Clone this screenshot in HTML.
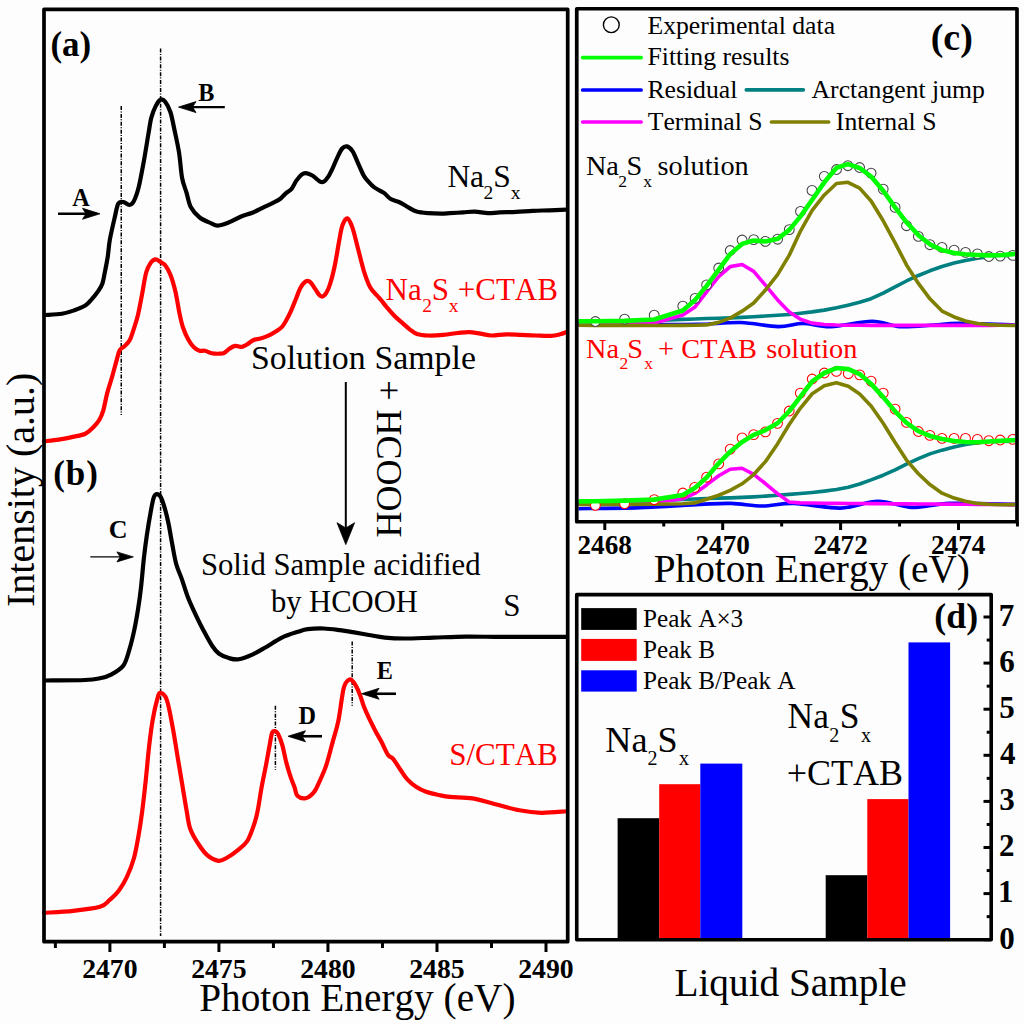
<!DOCTYPE html>
<html><head><meta charset="utf-8"><style>
html,body{margin:0;padding:0;background:#fdfdfd;}
svg{display:block;}
text{font-family:"Liberation Serif",serif;font-kerning:none;}
</style></head><body>
<svg width="1024" height="1024" viewBox="0 0 1024 1024">
<line x1="121.25" y1="106" x2="121.25" y2="415" stroke="#000" stroke-width="1.5" stroke-dasharray="4 1.4 1 1.5"/>
<line x1="160.6" y1="48.5" x2="160.6" y2="936" stroke="#000" stroke-width="1.5" stroke-dasharray="4 1.4 1 1.5"/>
<line x1="275.4" y1="705.8" x2="275.4" y2="769.8" stroke="#000" stroke-width="1.5" stroke-dasharray="4 1.4 1 1.5"/>
<line x1="352.2" y1="641.6" x2="352.2" y2="705.8" stroke="#000" stroke-width="1.5" stroke-dasharray="4 1.4 1 1.5"/>
<path d="M45.00,315.00 C47.82,314.79 57.00,314.53 61.90,313.75 C66.80,312.97 70.50,311.66 74.40,310.30 C78.30,308.94 82.43,307.42 85.30,305.60 C88.17,303.78 89.52,301.73 91.60,299.40 C93.68,297.07 96.02,294.20 97.80,291.60 C99.58,289.00 101.10,287.17 102.30,283.80 C103.50,280.43 104.08,275.97 105.00,271.40 C105.92,266.83 107.00,261.63 107.80,256.40 C108.60,251.17 108.65,246.48 109.80,240.00 C110.95,233.52 113.28,223.57 114.70,217.50 C116.12,211.43 116.83,206.17 118.30,203.60 C119.77,201.03 121.67,201.87 123.50,202.10 C125.33,202.33 127.60,205.12 129.30,205.00 C131.00,204.88 132.12,204.45 133.70,201.40 C135.28,198.35 137.08,193.55 138.80,186.70 C140.52,179.85 142.40,169.08 144.00,160.30 C145.60,151.52 147.18,141.08 148.40,134.00 C149.62,126.92 150.08,122.45 151.30,117.80 C152.52,113.15 154.12,109.15 155.70,106.10 C157.28,103.05 159.22,100.23 160.80,99.50 C162.38,98.77 163.60,99.62 165.20,101.70 C166.80,103.78 168.82,107.12 170.40,112.00 C171.98,116.88 173.25,124.17 174.70,131.00 C176.15,137.83 177.87,145.17 179.10,153.00 C180.33,160.83 180.87,171.40 182.10,178.00 C183.33,184.60 185.03,187.72 186.50,192.60 C187.97,197.48 188.70,203.15 190.90,207.30 C193.10,211.45 196.28,214.82 199.70,217.50 C203.12,220.18 208.47,222.05 211.40,223.40 C214.33,224.75 215.10,225.48 217.30,225.60 C219.50,225.72 222.28,224.80 224.60,224.10 C226.92,223.40 228.58,222.63 231.25,221.40 C233.92,220.17 236.97,218.18 240.60,216.70 C244.22,215.22 249.35,213.98 253.00,212.50 C256.65,211.02 259.10,209.43 262.50,207.80 C265.90,206.17 270.48,204.17 273.40,202.70 C276.32,201.23 277.98,200.52 280.00,199.00 C282.02,197.48 283.57,195.30 285.50,193.60 C287.43,191.90 289.78,190.97 291.60,188.80 C293.42,186.63 294.68,183.00 296.40,180.60 C298.12,178.20 300.30,175.65 301.90,174.40 C303.50,173.15 304.18,172.87 306.00,173.10 C307.82,173.33 310.53,174.43 312.80,175.80 C315.07,177.17 317.77,180.32 319.60,181.30 C321.43,182.28 322.42,182.38 323.80,181.70 C325.18,181.02 326.43,179.43 327.90,177.20 C329.37,174.97 331.02,171.62 332.60,168.30 C334.18,164.98 335.80,160.60 337.40,157.30 C339.00,154.00 340.60,150.32 342.20,148.50 C343.80,146.68 345.28,145.95 347.00,146.40 C348.72,146.85 350.68,148.47 352.50,151.20 C354.32,153.93 356.08,158.82 357.90,162.80 C359.72,166.78 361.80,172.13 363.40,175.10 C365.00,178.07 365.68,178.55 367.50,180.60 C369.32,182.65 371.57,185.35 374.30,187.40 C377.03,189.45 381.17,190.97 383.90,192.90 C386.63,194.83 388.02,197.40 390.70,199.00 C393.38,200.60 397.07,201.10 400.00,202.50 C402.93,203.90 405.53,205.88 408.30,207.40 C411.07,208.92 413.28,210.63 416.60,211.60 C419.92,212.57 424.05,212.87 428.20,213.20 C432.35,213.53 437.90,213.60 441.50,213.60 C445.10,213.60 446.20,213.40 449.80,213.20 C453.40,213.00 458.95,212.67 463.10,212.40 C467.25,212.13 470.55,211.47 474.70,211.60 C478.85,211.73 483.85,213.07 488.00,213.20 C492.15,213.33 494.90,212.62 499.60,212.40 C504.30,212.18 510.67,212.17 516.20,211.90 C521.73,211.63 527.27,211.07 532.80,210.80 C538.33,210.53 543.87,210.50 549.40,210.30 C554.93,210.10 563.23,209.72 566.00,209.60" fill="none" stroke="#000" stroke-width="4.2" stroke-linejoin="round" stroke-linecap="round" />
<path d="M44.00,441.25 C46.46,440.99 53.95,440.43 58.75,439.70 C63.55,438.97 68.38,437.89 72.80,436.90 C77.22,435.91 81.92,435.32 85.30,433.75 C88.68,432.18 90.75,429.84 93.10,427.50 C95.45,425.16 97.70,422.57 99.40,419.70 C101.10,416.83 102.00,414.73 103.30,410.30 C104.60,405.87 105.77,398.57 107.20,393.10 C108.63,387.63 110.33,382.97 111.90,377.50 C113.47,372.03 115.30,364.85 116.60,360.30 C117.90,355.75 118.40,352.54 119.70,350.20 C121.00,347.86 122.72,347.95 124.40,346.25 C126.08,344.55 128.23,342.89 129.80,340.00 C131.37,337.11 132.45,333.03 133.80,328.90 C135.15,324.77 136.53,320.90 137.90,315.20 C139.27,309.50 140.63,301.77 142.00,294.70 C143.37,287.63 144.63,278.15 146.10,272.80 C147.57,267.45 149.22,264.83 150.80,262.60 C152.38,260.37 154.00,259.52 155.60,259.40 C157.20,259.28 158.80,260.92 160.40,261.90 C162.00,262.88 163.48,263.03 165.20,265.30 C166.92,267.57 168.98,271.05 170.70,275.50 C172.42,279.95 174.02,285.62 175.50,292.00 C176.98,298.38 178.35,307.88 179.60,313.80 C180.85,319.72 181.53,323.17 183.00,327.50 C184.47,331.83 186.58,336.50 188.40,339.80 C190.22,343.10 192.07,345.48 193.90,347.30 C195.73,349.12 197.57,350.12 199.40,350.70 C201.23,351.28 202.85,350.38 204.90,350.80 C206.95,351.22 209.27,352.72 211.70,353.20 C214.13,353.68 217.38,353.77 219.50,353.70 C221.62,353.63 222.77,353.62 224.40,352.80 C226.03,351.98 227.50,349.95 229.30,348.80 C231.10,347.65 233.08,346.22 235.20,345.90 C237.32,345.58 240.05,347.13 242.00,346.90 C243.95,346.67 244.95,345.65 246.90,344.50 C248.85,343.35 251.43,340.98 253.70,340.00 C255.97,339.02 258.05,339.32 260.50,338.60 C262.95,337.88 265.78,336.92 268.40,335.70 C271.02,334.48 273.93,332.77 276.20,331.30 C278.47,329.83 280.38,328.62 282.00,326.90 C283.62,325.18 284.43,323.60 285.90,321.00 C287.37,318.40 289.17,314.88 290.80,311.30 C292.43,307.72 294.08,303.43 295.70,299.50 C297.32,295.57 298.75,290.75 300.50,287.70 C302.25,284.65 304.52,282.10 306.20,281.20 C307.88,280.30 309.12,281.02 310.60,282.30 C312.08,283.58 313.52,286.65 315.10,288.90 C316.68,291.15 318.52,294.75 320.10,295.80 C321.68,296.85 323.00,296.98 324.60,295.20 C326.20,293.42 328.02,289.97 329.70,285.10 C331.38,280.23 333.12,273.42 334.70,266.00 C336.28,258.58 337.92,247.37 339.20,240.60 C340.48,233.83 341.03,229.10 342.40,225.40 C343.77,221.70 345.72,217.98 347.40,218.40 C349.08,218.82 350.80,223.13 352.50,227.90 C354.20,232.67 355.70,239.80 357.60,247.00 C359.50,254.20 361.78,264.33 363.90,271.10 C366.02,277.87 367.97,283.37 370.30,287.60 C372.63,291.83 376.12,294.43 377.90,296.50 C379.68,298.57 379.42,298.08 381.00,300.00 C382.58,301.92 385.10,305.28 387.40,308.00 C389.70,310.72 392.32,313.83 394.80,316.30 C397.28,318.77 399.82,320.63 402.30,322.80 C404.78,324.97 407.23,327.43 409.70,329.30 C412.17,331.17 414.02,332.97 417.10,334.00 C420.18,335.03 423.87,335.35 428.20,335.50 C432.53,335.65 438.15,335.32 443.10,334.90 C448.05,334.48 453.57,333.47 457.90,333.00 C462.23,332.53 465.38,332.00 469.10,332.10 C472.82,332.20 476.50,333.03 480.20,333.60 C483.90,334.17 486.97,335.38 491.30,335.50 C495.63,335.62 501.25,334.40 506.20,334.30 C511.15,334.20 516.05,334.70 521.00,334.90 C525.95,335.10 530.95,335.35 535.90,335.50 C540.85,335.65 546.68,336.00 550.70,335.80 C554.72,335.60 557.37,334.92 560.00,334.30 C562.63,333.68 565.42,332.47 566.50,332.10" fill="none" stroke="#ff0000" stroke-width="4.2" stroke-linejoin="round" stroke-linecap="round" />
<path d="M45.00,680.50 C51.67,680.42 75.83,680.38 85.00,680.00 C94.17,679.62 95.55,679.15 100.00,678.20 C104.45,677.25 107.80,676.42 111.70,674.30 C115.60,672.18 120.47,669.57 123.40,665.50 C126.33,661.43 127.50,655.75 129.30,649.90 C131.10,644.05 132.73,637.23 134.20,630.40 C135.67,623.57 136.97,616.07 138.10,608.90 C139.23,601.73 140.03,595.87 141.00,587.40 C141.97,578.93 142.92,566.88 143.90,558.10 C144.88,549.32 145.75,542.50 146.90,534.70 C148.05,526.90 149.67,517.48 150.80,511.30 C151.93,505.12 152.73,500.47 153.70,497.60 C154.67,494.73 155.47,494.27 156.60,494.10 C157.73,493.93 159.18,494.40 160.50,496.60 C161.82,498.80 163.18,502.90 164.50,507.30 C165.82,511.70 167.10,516.80 168.40,523.00 C169.70,529.20 171.00,537.67 172.30,544.50 C173.60,551.33 174.58,558.15 176.20,564.00 C177.82,569.85 180.05,574.07 182.00,579.60 C183.95,585.13 185.62,591.33 187.90,597.20 C190.18,603.07 193.10,609.27 195.70,614.80 C198.30,620.33 200.73,625.20 203.50,630.40 C206.27,635.60 209.70,642.10 212.30,646.00 C214.90,649.90 216.33,651.78 219.10,653.80 C221.87,655.82 225.63,657.18 228.90,658.10 C232.17,659.02 234.70,659.93 238.70,659.30 C242.70,658.67 248.38,656.32 252.90,654.30 C257.42,652.28 260.97,649.98 265.80,647.20 C270.63,644.42 276.53,640.17 281.90,637.60 C287.27,635.03 293.70,633.20 298.00,631.80 C302.30,630.40 303.40,629.75 307.70,629.20 C312.00,628.65 318.43,628.35 323.80,628.50 C329.17,628.65 335.07,629.50 339.90,630.10 C344.73,630.70 347.97,631.28 352.80,632.10 C357.63,632.92 363.53,634.08 368.90,635.00 C374.27,635.92 379.08,637.02 385.00,637.60 C390.92,638.18 396.33,638.50 404.40,638.50 C412.47,638.50 423.20,637.92 433.40,637.60 C443.60,637.28 454.87,636.72 465.60,636.60 C476.33,636.48 487.07,636.85 497.80,636.90 C508.53,636.95 518.63,636.92 530.00,636.90 C541.37,636.88 560.00,636.82 566.00,636.80" fill="none" stroke="#000" stroke-width="4.2" stroke-linejoin="round" stroke-linecap="round" />
<path d="M44.00,912.80 C48.88,912.47 63.92,911.80 73.25,910.80 C82.58,909.80 93.97,908.57 100.00,906.80 C106.03,905.03 106.28,902.87 109.40,900.20 C112.52,897.53 115.78,894.70 118.70,890.80 C121.62,886.90 124.35,882.27 126.90,876.80 C129.45,871.33 132.03,865.03 134.00,858.00 C135.97,850.97 137.33,842.40 138.70,834.60 C140.07,826.80 141.03,820.18 142.20,811.20 C143.37,802.22 144.53,791.63 145.70,780.70 C146.87,769.77 148.03,755.75 149.20,745.60 C150.37,735.45 151.33,727.62 152.70,719.80 C154.07,711.98 156.12,703.18 157.40,698.70 C158.68,694.22 158.83,692.70 160.40,692.90 C161.97,693.10 164.77,694.25 166.80,699.90 C168.83,705.55 170.85,717.62 172.60,726.80 C174.35,735.98 175.73,745.62 177.30,755.00 C178.87,764.38 180.43,773.73 182.00,783.10 C183.57,792.47 185.33,803.60 186.70,811.20 C188.07,818.80 188.25,823.23 190.20,828.70 C192.15,834.17 195.47,839.50 198.40,844.00 C201.33,848.50 204.48,852.90 207.80,855.70 C211.12,858.50 215.18,860.42 218.30,860.80 C221.42,861.18 223.18,859.83 226.50,858.00 C229.82,856.17 234.68,852.72 238.20,849.80 C241.72,846.88 244.87,844.98 247.60,840.50 C250.33,836.02 252.90,827.98 254.60,822.90 C256.30,817.82 256.60,816.12 257.80,810.00 C259.00,803.88 260.45,793.58 261.80,786.20 C263.15,778.82 264.63,772.32 265.90,765.70 C267.17,759.08 268.37,751.97 269.40,746.50 C270.43,741.03 271.08,735.45 272.10,732.90 C273.12,730.35 274.48,730.98 275.50,731.20 C276.52,731.42 277.07,731.87 278.20,734.20 C279.33,736.53 280.93,740.42 282.30,745.20 C283.67,749.98 285.03,757.67 286.40,762.90 C287.77,768.13 289.13,772.50 290.50,776.60 C291.87,780.70 293.45,784.32 294.60,787.50 C295.75,790.68 295.57,793.92 297.40,795.70 C299.23,797.48 302.87,798.77 305.60,798.20 C308.33,797.63 311.53,794.98 313.80,792.30 C316.07,789.62 317.15,786.53 319.20,782.10 C321.25,777.67 323.82,772.53 326.10,765.70 C328.38,758.87 330.85,748.62 332.90,741.10 C334.95,733.58 336.58,729.48 338.40,720.60 C340.22,711.72 341.98,694.63 343.80,687.80 C345.62,680.97 347.77,680.65 349.30,679.60 C350.83,678.55 351.83,680.35 353.00,681.50 C354.17,682.65 355.10,684.18 356.30,686.50 C357.50,688.82 358.92,692.02 360.20,695.40 C361.48,698.78 362.53,703.00 364.00,706.80 C365.47,710.60 367.10,714.18 369.00,718.20 C370.90,722.22 373.28,726.88 375.40,730.90 C377.52,734.92 379.58,738.28 381.70,742.30 C383.82,746.32 386.20,752.25 388.10,755.00 C390.00,757.75 390.98,756.25 393.10,758.80 C395.22,761.35 398.47,766.92 400.80,770.30 C403.13,773.68 404.57,776.35 407.10,779.10 C409.63,781.85 412.83,784.68 416.00,786.80 C419.17,788.92 422.30,790.43 426.10,791.80 C429.90,793.17 434.82,794.15 438.80,795.00 C442.78,795.85 444.38,796.33 450.00,796.90 C455.62,797.47 465.10,797.22 472.50,798.40 C479.90,799.58 486.58,802.02 494.40,804.00 C502.22,805.98 511.59,808.83 519.40,810.30 C527.21,811.77 533.44,812.64 541.25,812.80 C549.06,812.96 562.08,811.51 566.25,811.25" fill="none" stroke="#ff0000" stroke-width="4.2" stroke-linejoin="round" stroke-linecap="round" />
<rect x="44" y="9.3" width="523.7" height="932.4000000000001" fill="none" stroke="#000" stroke-width="3.7" stroke-linejoin="round"/>
<line x1="109.9" y1="941.7" x2="109.9" y2="952" stroke="#000" stroke-width="3" />
<text x="82.15" y="977.60" style="font-size:27.7px;font-weight:bold;" fill="#000" >2470</text>
<line x1="218.925" y1="941.7" x2="218.925" y2="952" stroke="#000" stroke-width="3" />
<text x="191.15" y="977.60" style="font-size:27.7px;font-weight:bold;" fill="#000" >2475</text>
<line x1="327.95000000000005" y1="941.7" x2="327.95000000000005" y2="952" stroke="#000" stroke-width="3" />
<text x="300.20" y="977.60" style="font-size:27.7px;font-weight:bold;" fill="#000" >2480</text>
<line x1="436.975" y1="941.7" x2="436.975" y2="952" stroke="#000" stroke-width="3" />
<text x="409.20" y="977.60" style="font-size:27.7px;font-weight:bold;" fill="#000" >2485</text>
<line x1="546.0" y1="941.7" x2="546.0" y2="952" stroke="#000" stroke-width="3" />
<text x="518.25" y="977.60" style="font-size:27.7px;font-weight:bold;" fill="#000" >2490</text>
<line x1="55.3875" y1="941.7" x2="55.3875" y2="948" stroke="#000" stroke-width="3" />
<line x1="164.41250000000002" y1="941.7" x2="164.41250000000002" y2="948" stroke="#000" stroke-width="3" />
<line x1="273.4375" y1="941.7" x2="273.4375" y2="948" stroke="#000" stroke-width="3" />
<line x1="382.4625" y1="941.7" x2="382.4625" y2="948" stroke="#000" stroke-width="3" />
<line x1="491.48749999999995" y1="941.7" x2="491.48749999999995" y2="948" stroke="#000" stroke-width="3" />
<text x="50.46" y="55.80" style="font-size:35px;font-weight:bold;" fill="#000" >(a)</text>
<text x="53.16" y="484.90" style="font-size:35px;font-weight:bold;" fill="#000" letter-spacing="1">(b)</text>
<text x="72.26" y="206.00" style="font-size:24.2px;font-weight:bold;" fill="#000" >A</text>
<text x="198.30" y="101.10" style="font-size:24.2px;font-weight:bold;" fill="#000" >B</text>
<text x="108.63" y="538.40" style="font-size:26px;font-weight:bold;" fill="#000" >C</text>
<text x="298.57" y="724.40" style="font-size:24.2px;font-weight:bold;" fill="#000" >D</text>
<text x="376.79" y="679.00" style="font-size:24.2px;font-weight:bold;" fill="#000" >E</text>
<line x1="58" y1="213.75" x2="96.5" y2="213.75" stroke="#000" stroke-width="2.6" />
<path d="M100,213.75 L82.5,208.25 L86.0,213.75 L82.5,219.25 Z" fill="#000" stroke="#000" stroke-width="0.8" stroke-linejoin="round"/>
<line x1="224.8" y1="107.1" x2="182.0" y2="107.1" stroke="#000" stroke-width="2.4" />
<path d="M178.5,107.1 L196.0,101.6 L192.5,107.1 L196.0,112.6 Z" fill="#000" stroke="#000" stroke-width="0.8" stroke-linejoin="round"/>
<line x1="90.3" y1="556.9" x2="130.0" y2="556.9" stroke="#000" stroke-width="1.3" />
<path d="M133.3,556.9 L116.9,551.9 L120.20000000000002,556.9 L116.9,561.9 Z" fill="#000" stroke="#000" stroke-width="0.8" stroke-linejoin="round"/>
<line x1="322" y1="736.25" x2="291.5" y2="736.25" stroke="#000" stroke-width="2.6" />
<path d="M288,736.25 L305.5,730.75 L302.0,736.25 L305.5,741.75 Z" fill="#000" stroke="#000" stroke-width="0.8" stroke-linejoin="round"/>
<line x1="396" y1="693.75" x2="365.1" y2="693.75" stroke="#000" stroke-width="2.6" />
<path d="M361.6,693.75 L379.1,688.25 L375.6,693.75 L379.1,699.25 Z" fill="#000" stroke="#000" stroke-width="0.8" stroke-linejoin="round"/>
<line x1="345.8" y1="382" x2="345.8" y2="535" stroke="#000" stroke-width="2" />
<path d="M345.8,544.6 L337,522.7 L345.8,528 L354.6,522.7 Z" fill="#000" stroke="#000" stroke-width="0.8" stroke-linejoin="round"/>
<text x="447.39" y="186.80" style="font-size:31.5px;" fill="#000" >Na</text>
<text x="483.54" y="198.90" style="font-size:19.5px;" fill="#000" >2</text>
<text x="493.29" y="186.80" style="font-size:31.5px;" fill="#000" >S</text>
<text x="510.63" y="198.90" style="font-size:19.5px;" fill="#000" >x</text>
<text x="385.61" y="299.70" style="font-size:31px;" fill="#ff0000" >Na</text>
<text x="422.14" y="312.30" style="font-size:19.5px;" fill="#ff0000" >2</text>
<text x="431.73" y="299.70" style="font-size:31px;" fill="#ff0000" >S</text>
<text x="448.83" y="312.30" style="font-size:19.5px;" fill="#ff0000" >x</text>
<text x="457.86" y="299.70" style="font-size:31px;" fill="#ff0000" >+</text>
<text x="475.23" y="299.70" style="font-size:31px;" fill="#ff0000" >CTAB</text>
<text x="251.04" y="369.00" style="font-size:33.8px;" fill="#000" >Solution</text>
<text x="374.54" y="369.00" style="font-size:33.8px;" fill="#000" >Sample</text>
<text x="200.95" y="574.80" style="font-size:30.7px;" fill="#000" >Solid Sample acidified</text>
<text x="270.90" y="612.00" style="font-size:30.59px;" fill="#000" >by HCOOH</text>
<text x="503.33" y="616.30" style="font-size:31px;" fill="#000" >S</text>
<text x="449.17" y="765.00" style="font-size:31.02px;" fill="#ff0000" >S/CTAB</text>
<text x="199.27" y="1011.30" style="font-size:39.27px;" fill="#000" >Photon Energy (eV)</text>
<text transform="translate(376.6,380.6) rotate(90)" x="-0.3" y="0" style="font-size:36px">+ HCOOH</text>
<text transform="translate(33.8,605.9) rotate(-90)" x="-1.15" y="0" style="font-size:40px">Intensity (a.u.)</text>
<clipPath id="cc"><rect x="578.5" y="10.7" width="436.5" height="509.3"/></clipPath>
<g clip-path="url(#cc)">
<polyline points="566.20,323.00 595.40,322.42 624.60,321.51 654.20,320.49 682.80,319.39 695.10,318.93 706.60,318.53 718.70,318.20 730.20,317.84 742.10,317.33 753.70,316.75 765.40,316.07 777.60,315.31 789.30,314.42 800.50,313.29 812.00,311.90 824.30,310.11 836.50,307.83 847.90,305.22 859.60,302.31 871.10,298.71 883.20,293.05 895.10,286.82 906.50,280.99 918.40,275.48 929.90,270.81 942.00,266.45 954.10,262.96 965.50,260.61 977.40,258.33 988.80,256.77 1000.20,255.93 1012.80,255.22 1024.40,255.00" fill="none" stroke="#008080" stroke-width="3.6" stroke-linejoin="round" stroke-linecap="round" />
<path d="M576.70,324.60 C590.58,324.58 639.45,324.53 660.00,324.50 C680.55,324.47 686.57,324.73 700.00,324.40 C713.43,324.07 727.60,322.13 740.60,322.50 C753.60,322.87 767.60,326.45 778.00,326.60 C788.40,326.75 794.17,323.40 803.00,323.40 C811.83,323.40 819.50,326.96 831.00,326.60 C842.50,326.24 860.50,321.25 872.00,321.25 C883.50,321.25 889.67,325.98 900.00,326.60 C910.33,327.23 924.17,325.53 934.00,325.00 C943.83,324.47 945.25,323.40 959.00,323.40 C972.75,323.40 1006.92,324.73 1016.50,325.00" fill="none" stroke="#0000ff" stroke-width="3.6" stroke-linejoin="round" stroke-linecap="round" />
<polyline points="566.20,324.20 595.40,324.14 624.60,324.00 654.20,323.09 682.80,314.99 695.10,306.89 706.60,291.86 718.70,276.68 730.20,266.62 742.10,264.57 753.70,271.38 765.40,285.21 777.60,299.91 789.30,311.98 800.50,319.29 812.00,323.14 824.30,324.48 836.50,325.04 847.90,325.20 859.60,325.30 871.10,325.35 883.20,325.38 895.10,325.39 906.50,325.40 918.40,325.39 929.90,325.39 942.00,325.38 954.10,325.37 965.50,325.36 977.40,325.34 988.80,325.33 1000.20,325.31 1012.80,325.30 1024.40,325.30" fill="none" stroke="#ff00ff" stroke-width="3.6" stroke-linejoin="round" stroke-linecap="round" />
<polyline points="566.20,325.30 595.40,325.34 624.60,325.42 654.20,325.47 682.80,325.41 695.10,325.27 706.60,324.92 718.70,322.37 730.20,318.16 742.10,311.16 753.70,303.06 765.40,290.01 777.60,274.62 789.30,255.12 800.50,231.09 812.00,210.72 824.30,194.96 836.50,183.45 847.90,182.32 859.60,188.08 871.10,200.94 883.20,220.80 895.10,242.80 906.50,264.94 918.40,283.45 929.90,298.81 942.00,311.11 954.10,316.94 965.50,320.99 977.40,323.54 988.80,324.64 1000.20,325.32 1012.80,325.55 1024.40,325.60" fill="none" stroke="#808000" stroke-width="3.6" stroke-linejoin="round" stroke-linecap="round" />
<circle cx="595.40" cy="321.50" r="4.9" fill="#fff" stroke="#444" stroke-width="1.05"/>
<circle cx="624.60" cy="319.20" r="4.9" fill="#fff" stroke="#444" stroke-width="1.05"/>
<circle cx="654.20" cy="315.20" r="4.9" fill="#fff" stroke="#444" stroke-width="1.05"/>
<circle cx="682.80" cy="306.20" r="4.9" fill="#fff" stroke="#444" stroke-width="1.05"/>
<circle cx="695.10" cy="298.40" r="4.9" fill="#fff" stroke="#444" stroke-width="1.05"/>
<circle cx="706.60" cy="284.90" r="4.9" fill="#fff" stroke="#444" stroke-width="1.05"/>
<circle cx="718.70" cy="268.00" r="4.9" fill="#fff" stroke="#444" stroke-width="1.05"/>
<circle cx="730.20" cy="250.50" r="4.9" fill="#fff" stroke="#444" stroke-width="1.05"/>
<circle cx="742.10" cy="240.00" r="4.9" fill="#fff" stroke="#444" stroke-width="1.05"/>
<circle cx="753.70" cy="239.60" r="4.9" fill="#fff" stroke="#444" stroke-width="1.05"/>
<circle cx="765.40" cy="241.40" r="4.9" fill="#fff" stroke="#444" stroke-width="1.05"/>
<circle cx="777.60" cy="239.20" r="4.9" fill="#fff" stroke="#444" stroke-width="1.05"/>
<circle cx="789.30" cy="229.60" r="4.9" fill="#fff" stroke="#444" stroke-width="1.05"/>
<circle cx="800.50" cy="211.40" r="4.9" fill="#fff" stroke="#444" stroke-width="1.05"/>
<circle cx="812.00" cy="190.40" r="4.9" fill="#fff" stroke="#444" stroke-width="1.05"/>
<circle cx="824.30" cy="176.30" r="4.9" fill="#fff" stroke="#444" stroke-width="1.05"/>
<circle cx="836.50" cy="169.50" r="4.9" fill="#fff" stroke="#444" stroke-width="1.05"/>
<circle cx="847.90" cy="165.70" r="4.9" fill="#fff" stroke="#444" stroke-width="1.05"/>
<circle cx="859.60" cy="167.50" r="4.9" fill="#fff" stroke="#444" stroke-width="1.05"/>
<circle cx="871.10" cy="173.10" r="4.9" fill="#fff" stroke="#444" stroke-width="1.05"/>
<circle cx="883.20" cy="189.10" r="4.9" fill="#fff" stroke="#444" stroke-width="1.05"/>
<circle cx="895.10" cy="207.40" r="4.9" fill="#fff" stroke="#444" stroke-width="1.05"/>
<circle cx="906.50" cy="225.70" r="4.9" fill="#fff" stroke="#444" stroke-width="1.05"/>
<circle cx="918.40" cy="236.40" r="4.9" fill="#fff" stroke="#444" stroke-width="1.05"/>
<circle cx="929.90" cy="244.70" r="4.9" fill="#fff" stroke="#444" stroke-width="1.05"/>
<circle cx="942.00" cy="247.40" r="4.9" fill="#fff" stroke="#444" stroke-width="1.05"/>
<circle cx="954.10" cy="250.10" r="4.9" fill="#fff" stroke="#444" stroke-width="1.05"/>
<circle cx="965.50" cy="252.40" r="4.9" fill="#fff" stroke="#444" stroke-width="1.05"/>
<circle cx="977.40" cy="253.80" r="4.9" fill="#fff" stroke="#444" stroke-width="1.05"/>
<circle cx="988.80" cy="256.50" r="4.9" fill="#fff" stroke="#444" stroke-width="1.05"/>
<circle cx="1000.20" cy="256.10" r="4.9" fill="#fff" stroke="#444" stroke-width="1.05"/>
<circle cx="1012.80" cy="255.40" r="4.9" fill="#fff" stroke="#444" stroke-width="1.05"/>
<polyline points="566.20,321.50 595.40,321.27 624.60,320.84 654.20,319.54 682.80,310.45 695.10,299.91 706.60,285.91 718.70,269.63 730.20,254.12 742.10,243.90 753.70,240.54 765.40,241.43 777.60,238.80 789.30,229.85 800.50,216.36 812.00,199.99 824.30,182.32 836.50,167.68 847.90,164.15 859.60,167.97 871.10,176.52 883.20,190.75 895.10,207.40 906.50,222.30 918.40,235.18 929.90,244.32 942.00,250.12 954.10,253.04 965.50,254.25 977.40,254.95 988.80,255.39 1000.20,255.21 1012.80,254.12 1024.40,253.80" fill="none" stroke="#00ff00" stroke-width="4.6" stroke-linejoin="round" stroke-linecap="round" />
<polyline points="566.20,504.20 595.40,503.41 624.60,502.17 654.20,500.85 682.80,499.50 694.70,498.97 706.60,498.51 718.70,498.15 730.20,497.84 742.10,497.42 753.70,496.83 765.40,496.10 777.50,495.25 789.20,494.36 800.30,493.47 812.20,492.42 824.30,491.09 836.40,489.51 848.30,487.31 859.70,483.99 871.10,479.86 883.20,475.20 895.10,469.97 906.50,464.19 918.40,458.58 929.90,453.88 942.00,450.14 954.10,447.09 965.50,444.58 977.40,442.76 988.80,441.82 1000.20,441.40 1012.80,441.09 1024.40,441.00" fill="none" stroke="#008080" stroke-width="3.6" stroke-linejoin="round" stroke-linecap="round" />
<path d="M576.70,508.70 C587.25,508.52 619.45,508.32 640.00,507.60 C660.55,506.88 684.79,505.10 700.00,504.40 C715.21,503.70 720.83,503.13 731.25,503.40 C741.67,503.67 752.08,506.00 762.50,506.00 C772.92,506.00 780.73,503.05 793.75,503.40 C806.77,503.75 826.56,508.46 840.60,508.10 C854.64,507.74 866.02,501.35 878.00,501.25 C889.98,501.15 900.50,507.14 912.50,507.50 C924.50,507.86 932.67,503.92 950.00,503.40 C967.33,502.88 1005.42,504.23 1016.50,504.40" fill="none" stroke="#0000ff" stroke-width="3.6" stroke-linejoin="round" stroke-linecap="round" />
<polyline points="566.20,503.00 595.40,502.87 624.60,502.66 654.20,502.13 682.80,498.81 694.70,493.46 706.60,484.93 718.70,475.78 730.20,469.27 742.10,468.25 753.70,474.36 765.40,483.53 777.50,493.63 789.20,501.96 800.30,502.84 812.20,503.06 824.30,503.23 836.40,503.36 848.30,503.47 859.70,503.57 871.10,503.66 883.20,503.75 895.10,503.83 906.50,503.91 918.40,503.99 929.90,504.06 942.00,504.14 954.10,504.21 965.50,504.28 977.40,504.35 988.80,504.42 1000.20,504.49 1012.80,504.58 1024.40,504.60" fill="none" stroke="#ff00ff" stroke-width="3.6" stroke-linejoin="round" stroke-linecap="round" />
<polyline points="566.20,504.60 595.40,504.52 624.60,504.42 654.20,504.22 682.80,503.68 694.70,502.91 706.60,499.21 718.70,495.25 730.20,490.42 742.10,483.80 753.70,474.58 765.40,461.65 777.50,443.90 789.20,424.54 800.30,408.31 812.20,393.76 824.30,385.80 836.40,382.80 848.30,386.30 859.70,394.04 871.10,405.95 883.20,423.26 895.10,442.54 906.50,460.06 918.40,473.73 929.90,484.58 942.00,493.18 954.10,498.07 965.50,501.35 977.40,503.40 988.80,504.28 1000.20,504.71 1012.80,504.64 1024.40,504.60" fill="none" stroke="#808000" stroke-width="3.6" stroke-linejoin="round" stroke-linecap="round" />
<circle cx="595.40" cy="505.30" r="4.9" fill="#fff" stroke="#ff0000" stroke-width="1.05"/>
<circle cx="624.60" cy="503.70" r="4.9" fill="#fff" stroke="#ff0000" stroke-width="1.05"/>
<circle cx="654.20" cy="499.70" r="4.9" fill="#fff" stroke="#ff0000" stroke-width="1.05"/>
<circle cx="682.80" cy="493.00" r="4.9" fill="#fff" stroke="#ff0000" stroke-width="1.05"/>
<circle cx="694.70" cy="487.30" r="4.9" fill="#fff" stroke="#ff0000" stroke-width="1.05"/>
<circle cx="706.60" cy="477.20" r="4.9" fill="#fff" stroke="#ff0000" stroke-width="1.05"/>
<circle cx="718.70" cy="463.80" r="4.9" fill="#fff" stroke="#ff0000" stroke-width="1.05"/>
<circle cx="730.20" cy="449.20" r="4.9" fill="#fff" stroke="#ff0000" stroke-width="1.05"/>
<circle cx="742.10" cy="437.90" r="4.9" fill="#fff" stroke="#ff0000" stroke-width="1.05"/>
<circle cx="753.70" cy="434.60" r="4.9" fill="#fff" stroke="#ff0000" stroke-width="1.05"/>
<circle cx="765.40" cy="431.90" r="4.9" fill="#fff" stroke="#ff0000" stroke-width="1.05"/>
<circle cx="777.50" cy="423.30" r="4.9" fill="#fff" stroke="#ff0000" stroke-width="1.05"/>
<circle cx="789.20" cy="411.00" r="4.9" fill="#fff" stroke="#ff0000" stroke-width="1.05"/>
<circle cx="800.30" cy="393.10" r="4.9" fill="#fff" stroke="#ff0000" stroke-width="1.05"/>
<circle cx="812.20" cy="379.00" r="4.9" fill="#fff" stroke="#ff0000" stroke-width="1.05"/>
<circle cx="824.30" cy="373.00" r="4.9" fill="#fff" stroke="#ff0000" stroke-width="1.05"/>
<circle cx="836.40" cy="371.40" r="4.9" fill="#fff" stroke="#ff0000" stroke-width="1.05"/>
<circle cx="848.30" cy="373.70" r="4.9" fill="#fff" stroke="#ff0000" stroke-width="1.05"/>
<circle cx="859.70" cy="374.80" r="4.9" fill="#fff" stroke="#ff0000" stroke-width="1.05"/>
<circle cx="871.10" cy="381.20" r="4.9" fill="#fff" stroke="#ff0000" stroke-width="1.05"/>
<circle cx="883.20" cy="393.10" r="4.9" fill="#fff" stroke="#ff0000" stroke-width="1.05"/>
<circle cx="895.10" cy="409.10" r="4.9" fill="#fff" stroke="#ff0000" stroke-width="1.05"/>
<circle cx="906.50" cy="422.40" r="4.9" fill="#fff" stroke="#ff0000" stroke-width="1.05"/>
<circle cx="918.40" cy="431.50" r="4.9" fill="#fff" stroke="#ff0000" stroke-width="1.05"/>
<circle cx="929.90" cy="435.40" r="4.9" fill="#fff" stroke="#ff0000" stroke-width="1.05"/>
<circle cx="942.00" cy="438.40" r="4.9" fill="#fff" stroke="#ff0000" stroke-width="1.05"/>
<circle cx="954.10" cy="438.40" r="4.9" fill="#fff" stroke="#ff0000" stroke-width="1.05"/>
<circle cx="965.50" cy="438.40" r="4.9" fill="#fff" stroke="#ff0000" stroke-width="1.05"/>
<circle cx="977.40" cy="439.30" r="4.9" fill="#fff" stroke="#ff0000" stroke-width="1.05"/>
<circle cx="988.80" cy="440.70" r="4.9" fill="#fff" stroke="#ff0000" stroke-width="1.05"/>
<circle cx="1000.20" cy="440.00" r="4.9" fill="#fff" stroke="#ff0000" stroke-width="1.05"/>
<circle cx="1012.80" cy="439.30" r="4.9" fill="#fff" stroke="#ff0000" stroke-width="1.05"/>
<polyline points="566.20,501.50 595.40,501.18 624.60,500.65 654.20,499.63 682.80,495.05 694.70,488.10 706.60,477.52 718.70,463.26 730.20,451.68 742.10,441.93 753.70,434.85 765.40,430.10 777.50,423.27 789.20,411.26 800.30,396.84 812.20,381.31 824.30,373.00 836.40,368.07 848.30,369.10 859.70,374.09 871.10,383.90 883.20,397.12 895.10,411.40 906.50,422.80 918.40,431.02 929.90,435.94 942.00,439.04 954.10,440.94 965.50,442.00 977.40,442.26 988.80,441.57 1000.20,440.86 1012.80,440.18 1024.40,440.00" fill="none" stroke="#00ff00" stroke-width="4.6" stroke-linejoin="round" stroke-linecap="round" />
</g>
<rect x="576.75" y="8.75" width="440.25" height="513.0" fill="none" stroke="#000" stroke-width="3.7" stroke-linejoin="round"/>
<line x1="604.8" y1="521.75" x2="604.8" y2="530" stroke="#000" stroke-width="3" />
<text x="577.48" y="553.60" style="font-size:27.2px;font-weight:bold;" fill="#000" >2468</text>
<line x1="722.6999999999999" y1="521.75" x2="722.6999999999999" y2="530" stroke="#000" stroke-width="3" />
<text x="695.45" y="553.60" style="font-size:27.2px;font-weight:bold;" fill="#000" >2470</text>
<line x1="840.5999999999999" y1="521.75" x2="840.5999999999999" y2="530" stroke="#000" stroke-width="3" />
<text x="813.41" y="553.60" style="font-size:27.2px;font-weight:bold;" fill="#000" >2472</text>
<line x1="958.5" y1="521.75" x2="958.5" y2="530" stroke="#000" stroke-width="3" />
<text x="930.98" y="553.60" style="font-size:27.2px;font-weight:bold;" fill="#000" >2474</text>
<line x1="663.75" y1="521.75" x2="663.75" y2="526.5" stroke="#000" stroke-width="3" />
<line x1="781.65" y1="521.75" x2="781.65" y2="526.5" stroke="#000" stroke-width="3" />
<line x1="899.55" y1="521.75" x2="899.55" y2="526.5" stroke="#000" stroke-width="3" />
<line x1="1017.45" y1="521.75" x2="1017.45" y2="526.5" stroke="#000" stroke-width="3" />
<text x="653.77" y="581.90" style="font-size:39.26px;" fill="#000" >Photon Energy (eV)</text>
<circle cx="611.3" cy="24.75" r="7.9" fill="none" stroke="#000" stroke-width="1.4"/>
<line x1="582.7" y1="57.6" x2="641.1" y2="57.6" stroke="#00ff00" stroke-width="3.7" stroke-linecap="round"/>
<line x1="582.7" y1="90" x2="641.1" y2="90" stroke="#0000ff" stroke-width="3.7" stroke-linecap="round"/>
<line x1="582.7" y1="122" x2="641.1" y2="122" stroke="#ff00ff" stroke-width="3.7" stroke-linecap="round"/>
<line x1="746.3" y1="89.8" x2="803.3" y2="89.8" stroke="#008080" stroke-width="3.7" stroke-linecap="round"/>
<line x1="771.5" y1="122" x2="828.6" y2="122" stroke="#808000" stroke-width="3.7" stroke-linecap="round"/>
<text x="647.46" y="33.50" style="font-size:25.7px;" fill="#000" >Experimental data</text>
<text x="647.46" y="65.30" style="font-size:25.7px;" fill="#000" >Fitting results</text>
<text x="647.46" y="97.50" style="font-size:25.7px;" fill="#000" >Residual</text>
<text x="811.55" y="97.50" style="font-size:25.7px;" fill="#000" >Arctangent jump</text>
<text x="647.74" y="129.70" style="font-size:25.7px;" fill="#000" >Terminal S</text>
<text x="835.87" y="129.70" style="font-size:25.7px;" fill="#000" >Internal S</text>
<text x="930.73" y="50.40" style="font-size:37.97px;font-weight:bold;" fill="#000" >(c)</text>
<text x="585.88" y="174.90" style="font-size:28.3px;" fill="#000" >Na</text>
<text x="618.23" y="186.80" style="font-size:17.5px;" fill="#000" >2</text>
<text x="626.41" y="174.90" style="font-size:28.3px;" fill="#000" >S</text>
<text x="643.15" y="186.80" style="font-size:17.5px;" fill="#000" >x</text>
<text x="657.54" y="174.90" style="font-size:28.3px;" fill="#000" >solution</text>
<text x="585.98" y="358.20" style="font-size:28.3px;" fill="#ff0000" >Na</text>
<text x="619.53" y="369.10" style="font-size:17.5px;" fill="#ff0000" >2</text>
<text x="627.31" y="358.20" style="font-size:28.3px;" fill="#ff0000" >S</text>
<text x="644.15" y="369.10" style="font-size:17.5px;" fill="#ff0000" >x</text>
<text x="657.89" y="358.20" style="font-size:28.3px;" fill="#ff0000" >+</text>
<text x="681.34" y="358.20" style="font-size:28.3px;" fill="#ff0000" >CTAB</text>
<text x="766.14" y="358.20" style="font-size:28.3px;" fill="#ff0000" >solution</text>
<rect x="617.60" y="818.20" width="41.60" height="121.50" fill="#000"/>
<rect x="659.20" y="784.20" width="41.10" height="155.50" fill="#ff0000"/>
<rect x="700.30" y="763.60" width="42.00" height="176.10" fill="#0000ff"/>
<rect x="825.70" y="875.20" width="41.60" height="64.50" fill="#000"/>
<rect x="867.30" y="799.10" width="41.20" height="140.60" fill="#ff0000"/>
<rect x="908.50" y="642.40" width="41.60" height="297.30" fill="#0000ff"/>
<rect x="576.75" y="594.6" width="414.45000000000005" height="345.1" fill="none" stroke="#000" stroke-width="3.6" stroke-linejoin="round"/>
<line x1="983.5" y1="939.7" x2="991" y2="939.7" stroke="#000" stroke-width="3" />
<text x="999.22" y="948.50" style="font-size:31px;font-weight:bold;" fill="#000" >0</text>
<line x1="983.5" y1="893.6" x2="991" y2="893.6" stroke="#000" stroke-width="3" />
<text x="997.92" y="902.40" style="font-size:31px;font-weight:bold;" fill="#000" >1</text>
<line x1="983.5" y1="847.5" x2="991" y2="847.5" stroke="#000" stroke-width="3" />
<text x="999.10" y="856.30" style="font-size:31px;font-weight:bold;" fill="#000" >2</text>
<line x1="983.5" y1="801.4000000000001" x2="991" y2="801.4000000000001" stroke="#000" stroke-width="3" />
<text x="999.23" y="810.20" style="font-size:31px;font-weight:bold;" fill="#000" >3</text>
<line x1="983.5" y1="755.3000000000001" x2="991" y2="755.3000000000001" stroke="#000" stroke-width="3" />
<text x="999.98" y="764.10" style="font-size:31px;font-weight:bold;" fill="#000" >4</text>
<line x1="983.5" y1="709.2" x2="991" y2="709.2" stroke="#000" stroke-width="3" />
<text x="999.16" y="718.00" style="font-size:31px;font-weight:bold;" fill="#000" >5</text>
<line x1="983.5" y1="663.1" x2="991" y2="663.1" stroke="#000" stroke-width="3" />
<text x="999.34" y="671.90" style="font-size:31px;font-weight:bold;" fill="#000" >6</text>
<line x1="983.5" y1="617.0" x2="991" y2="617.0" stroke="#000" stroke-width="3" />
<text x="998.63" y="625.80" style="font-size:31px;font-weight:bold;" fill="#000" >7</text>
<line x1="986.7" y1="916.6500000000001" x2="991" y2="916.6500000000001" stroke="#000" stroke-width="3" />
<line x1="986.7" y1="870.5500000000001" x2="991" y2="870.5500000000001" stroke="#000" stroke-width="3" />
<line x1="986.7" y1="824.45" x2="991" y2="824.45" stroke="#000" stroke-width="3" />
<line x1="986.7" y1="778.35" x2="991" y2="778.35" stroke="#000" stroke-width="3" />
<line x1="986.7" y1="732.25" x2="991" y2="732.25" stroke="#000" stroke-width="3" />
<line x1="986.7" y1="686.1500000000001" x2="991" y2="686.1500000000001" stroke="#000" stroke-width="3" />
<line x1="986.7" y1="640.05" x2="991" y2="640.05" stroke="#000" stroke-width="3" />
<rect x="581.20" y="608.10" width="55.50" height="21.80" fill="#000"/>
<rect x="581.20" y="638.90" width="55.50" height="22.00" fill="#ff0000"/>
<rect x="581.20" y="670.30" width="55.50" height="21.30" fill="#0000ff"/>
<text x="642.97" y="626.70" style="font-size:25.2px;" fill="#000" >Peak A×3</text>
<text x="642.97" y="658.20" style="font-size:25.2px;" fill="#000" >Peak B</text>
<text x="642.97" y="689.00" style="font-size:25.2px;" fill="#000" >Peak B/Peak A</text>
<text x="934.33" y="627.60" style="font-size:35.79px;font-weight:bold;" fill="#000" >(d)</text>
<text x="605.26" y="751.80" style="font-size:36.2px;" fill="#000" >Na</text>
<text x="647.42" y="764.70" style="font-size:20px;" fill="#000" >2</text>
<text x="657.58" y="751.80" style="font-size:36.2px;" fill="#000" >S</text>
<text x="678.92" y="764.70" style="font-size:20px;" fill="#000" >x</text>
<text x="787.58" y="727.80" style="font-size:35.5px;" fill="#000" >Na</text>
<text x="829.22" y="742.00" style="font-size:20px;" fill="#000" >2</text>
<text x="839.83" y="727.80" style="font-size:35.5px;" fill="#000" >S</text>
<text x="861.02" y="742.00" style="font-size:20px;" fill="#000" >x</text>
<text x="786.81" y="784.60" style="font-size:36px;" fill="#000" >+CTAB</text>
<text x="674.47" y="995.60" style="font-size:39.28px;" fill="#000" >Liquid Sample</text>
</svg></body></html>
